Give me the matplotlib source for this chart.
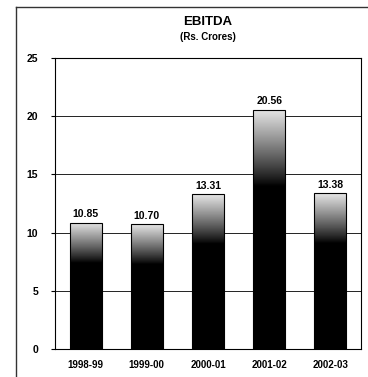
import numpy as np
import matplotlib.pyplot as plt
from matplotlib.lines import Line2D

years = ['1998-99', '1999-00', '2000-01', '2001-02', '2002-03']
ebitda = [10.85, 10.70, 13.31, 20.56, 13.38]
yticks = [0, 5, 10, 15, 20, 25]

plt.rcParams['font.family'] = ['Liberation Sans', 'DejaVu Sans']
plt.rcParams['font.weight'] = 'bold'

fig = plt.figure(figsize=(3.68, 3.77), dpi=100)
ax = fig.add_axes([55/368, 1 - 349/377, 306/368, 291/377])

x = np.arange(len(years))
width = 0.52
bars = ax.bar(x, ebitda, width, color='none', edgecolor='black', linewidth=0.8, zorder=3)

# vertical fade: black at bottom, light grey at the top of each bar
for b, v in zip(bars, ebitda):
    t = np.linspace(0, 1, 200)
    shade = np.clip((t - 0.68) / 0.32, 0, 1) ** 0.9 * 0.9
    grad = shade[:, None]
    im = ax.imshow(grad, cmap='gray', vmin=0, vmax=1, origin='lower', aspect='auto',
                   extent=[b.get_x(), b.get_x() + width, 0, v], zorder=2,
                   interpolation='bilinear')
    im.set_clip_path(b)
    ax.text(b.get_x() + width / 2, v + 0.3, f'{v:.2f}', ha='center', va='bottom',
            fontsize=7.5, fontweight='bold')

ax.set_xlim(-0.5, 4.5)
ax.set_ylim(0, 25)
ax.set_yticks(yticks)
ax.set_xticks(x)
ax.set_xticklabels(years, fontsize=7, fontweight='bold')
ax.tick_params(axis='y', labelsize=7.5, length=3, width=0.8, direction='out', pad=9)
ax.tick_params(axis='x', length=0, pad=8)
ax.yaxis.grid(True, color='#222222', linewidth=0.7, zorder=0)
ax.set_axisbelow(True)
for s in ax.spines.values():
    s.set_linewidth(0.8)

fig.text(208/368, 1 - 22/377, 'EBITDA', ha='center', va='center', fontsize=9.5, fontweight='bold')
fig.text(208/368, 1 - 37/377, '(Rs. Crores)', ha='center', va='center', fontsize=7, fontweight='bold')

# outer frame (left and top edges)
fig.add_artist(Line2D([16/368, 16/368], [0, 1 - 7/377], color='#333333', linewidth=1.0))
fig.add_artist(Line2D([16/368, 1], [1 - 7/377, 1 - 7/377], color='#333333', linewidth=1.0))

fig.savefig('out.png', dpi=100)
